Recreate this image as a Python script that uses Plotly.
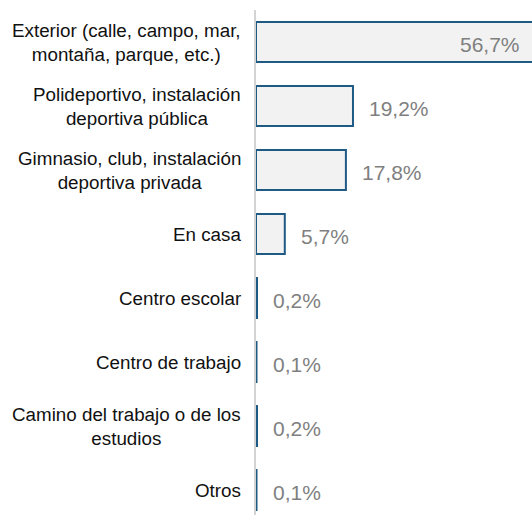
import plotly.graph_objects as go

# Lugar de práctica deportiva (%)
categorias = ["Exterior (calle, campo, mar,<br>montaña, parque, etc.)",
              "Polideportivo, instalación<br>deportiva pública",
              "Gimnasio, club, instalación<br>deportiva privada",
              "En casa",
              "Centro escolar",
              "Centro de trabajo",
              "Camino del trabajo o de los<br>estudios",
              "Otros"]
valores = [56.7, 19.2, 17.8, 5.7, 0.2, 0.1, 0.2, 0.1]

x_max = 54.65
etiquetas = [f"{v:.1f}".replace(".", ",") + "%" for v in valores]
fuente = "Arial, Liberation Sans"

fig = go.Figure()
fig.add_trace(go.Bar(
    y=categorias, x=valores, orientation="h", width=0.625,
    marker=dict(color="#f2f2f2", line=dict(color="#1f5a85", width=2)),
    hoverinfo="skip",
))

# category labels, lines centred on each other
for cat in categorias:
    fig.add_annotation(x=0, xref="paper", y=cat, yref="y", text=cat,
                       xanchor="right", align="center", xshift=-13, showarrow=False,
                       font=dict(family=fuente, size=18.8, color="#111111"))

# value labels
for cat, v, lab in zip(categorias, valores, etiquetas):
    if v > x_max:
        fig.add_annotation(x=x_max, y=cat, text=lab, xanchor="right", xshift=-10, yshift=-2,
                           showarrow=False,
                           font=dict(family=fuente, size=21, color="#7f7f7f"))
    else:
        fig.add_annotation(x=v, y=cat, text=lab, xanchor="left", xshift=14, yshift=-2,
                           showarrow=False,
                           font=dict(family=fuente, size=21, color="#7f7f7f"))

fig.update_layout(
    width=532, height=515,
    margin=dict(l=256, r=0, t=10, b=0),
    plot_bgcolor="white", paper_bgcolor="white",
    showlegend=False,
)
fig.update_xaxes(range=[0, x_max], visible=False)
fig.update_yaxes(range=[7.39, -0.5], showticklabels=False, showgrid=False,
                 showline=True, linecolor="#d4d4d4", linewidth=2, zeroline=False, ticks="")

fig.write_html("out.html", config={"displayModeBar": False},
               post_script="document.body.style.margin='0';")
